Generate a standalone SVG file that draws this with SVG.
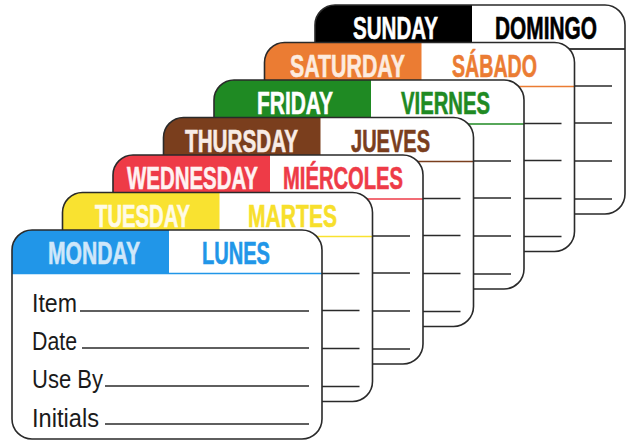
<svg xmlns="http://www.w3.org/2000/svg" width="631" height="442" viewBox="0 0 631 442">
  <defs>
    <style>
      .bg { fill: #ffffff; }
      .border { fill: none; stroke: #2a2a2a; stroke-width: 1.6; }
      .wl { stroke: #2a2a2a; stroke-width: 1.6; }
      .hd { font-family: "Liberation Sans", Arial, sans-serif; font-weight: 700; font-size: 31px; stroke-width: 0.6; }
      .lb { font-family: "Liberation Sans", Arial, sans-serif; font-size: 26px; fill: #1a1a1a; }
    </style>
    <rect id="cardShape" x="0" y="0" width="310" height="209" rx="20" ry="20"/>
    <path id="hdrShape" d="M0,44 V20 A20,20 0 0 1 20,0 H157 V44 Z"/>
    <g id="lines">
      <line class="wl" x1="68" y1="81" x2="297" y2="81"/>
      <line class="wl" x1="70" y1="118" x2="297" y2="118"/>
      <line class="wl" x1="93" y1="156" x2="297" y2="156"/>
      <line class="wl" x1="93" y1="194" x2="297" y2="194"/>
    </g>
  </defs>

  <g id="sunday" transform="translate(315,5)">
    <use href="#cardShape" class="bg"/>
    <use href="#hdrShape" fill="#000000"/>
    <line x1="0" y1="44" x2="310" y2="44" stroke="#000000" stroke-width="1.5"/>
    <use href="#lines"/>
    <text class="hd" x="38" y="34" fill="#ffffff" stroke="#ffffff" textLength="85" lengthAdjust="spacingAndGlyphs">SUNDAY</text>
    <text class="hd" x="180" y="34" fill="#000000" stroke="#000000" textLength="102" lengthAdjust="spacingAndGlyphs">DOMINGO</text>
    <use href="#cardShape" class="border"/>
  </g>

  <g id="saturday" transform="translate(264.5,42.5)">
    <use href="#cardShape" class="bg"/>
    <use href="#hdrShape" fill="#eb7c33"/>
    <line x1="0" y1="44" x2="310" y2="44" stroke="#eb7c33" stroke-width="1.5"/>
    <use href="#lines"/>
    <text class="hd" x="25.5" y="34" fill="#fdebdf" stroke="#fdebdf" textLength="115" lengthAdjust="spacingAndGlyphs">SATURDAY</text>
    <text class="hd" x="187.5" y="34" fill="#eb7c33" stroke="#eb7c33" textLength="85" lengthAdjust="spacingAndGlyphs">SÁBADO</text>
    <use href="#cardShape" class="border"/>
  </g>

  <g id="friday" transform="translate(214,80)">
    <use href="#cardShape" class="bg"/>
    <use href="#hdrShape" fill="#1f8a23"/>
    <line x1="0" y1="44" x2="310" y2="44" stroke="#1f8a23" stroke-width="1.5"/>
    <use href="#lines"/>
    <text class="hd" x="43" y="34" fill="#ffffff" stroke="#ffffff" textLength="76" lengthAdjust="spacingAndGlyphs">FRIDAY</text>
    <text class="hd" x="187" y="34" fill="#1f8a23" stroke="#1f8a23" textLength="89" lengthAdjust="spacingAndGlyphs">VIERNES</text>
    <use href="#cardShape" class="border"/>
  </g>

  <g id="thursday" transform="translate(163.5,117.5)">
    <use href="#cardShape" class="bg"/>
    <use href="#hdrShape" fill="#7a3e1d"/>
    <line x1="0" y1="44" x2="310" y2="44" stroke="#7a3e1d" stroke-width="1.5"/>
    <use href="#lines"/>
    <text class="hd" x="21.5" y="34" fill="#f8ece6" stroke="#f8ece6" textLength="113" lengthAdjust="spacingAndGlyphs">THURSDAY</text>
    <text class="hd" x="187.5" y="34" fill="#7a3e1d" stroke="#7a3e1d" textLength="79" lengthAdjust="spacingAndGlyphs">JUEVES</text>
    <use href="#cardShape" class="border"/>
  </g>

  <g id="wednesday" transform="translate(113,155)">
    <use href="#cardShape" class="bg"/>
    <use href="#hdrShape" fill="#ee3b47"/>
    <line x1="0" y1="44" x2="310" y2="44" stroke="#ee3b47" stroke-width="1.5"/>
    <use href="#lines"/>
    <text class="hd" x="14" y="34" fill="#fff2f2" stroke="#fff2f2" textLength="131" lengthAdjust="spacingAndGlyphs">WEDNESDAY</text>
    <text class="hd" x="170" y="34" fill="#ee3b47" stroke="#ee3b47" textLength="120" lengthAdjust="spacingAndGlyphs">MIÉRCOLES</text>
    <use href="#cardShape" class="border"/>
  </g>

  <g id="tuesday" transform="translate(62.5,192.5)">
    <use href="#cardShape" class="bg"/>
    <use href="#hdrShape" fill="#f9e230"/>
    <line x1="0" y1="44" x2="310" y2="44" stroke="#f9e230" stroke-width="1.5"/>
    <use href="#lines"/>
    <text class="hd" x="32.5" y="34" fill="#fffbe6" stroke="#fffbe6" textLength="95" lengthAdjust="spacingAndGlyphs">TUESDAY</text>
    <text class="hd" x="185.5" y="34" fill="#f7df2c" stroke="#f7df2c" textLength="89" lengthAdjust="spacingAndGlyphs">MARTES</text>
    <use href="#cardShape" class="border"/>
  </g>

  <g id="monday" transform="translate(12,230)">
    <use href="#cardShape" class="bg"/>
    <use href="#hdrShape" fill="#2196e8"/>
    <line x1="0" y1="43.5" x2="310" y2="43.5" stroke="#2196e8" stroke-width="1.5"/>
    <use href="#lines"/>
    <text class="hd" x="36" y="34" fill="#cfe7fa" stroke="#cfe7fa" textLength="92" lengthAdjust="spacingAndGlyphs">MONDAY</text>
    <text class="hd" x="190" y="34" fill="#2196e8" stroke="#2196e8" textLength="68" lengthAdjust="spacingAndGlyphs">LUNES</text>
    <text class="lb" x="20" y="82" textLength="45" lengthAdjust="spacingAndGlyphs">Item</text>
    <text class="lb" x="20" y="120" textLength="45" lengthAdjust="spacingAndGlyphs">Date</text>
    <text class="lb" x="20" y="158" textLength="71" lengthAdjust="spacingAndGlyphs">Use By</text>
    <text class="lb" x="20" y="197" textLength="67" lengthAdjust="spacingAndGlyphs">Initials</text>
    <use href="#cardShape" class="border"/>
  </g>
</svg>
